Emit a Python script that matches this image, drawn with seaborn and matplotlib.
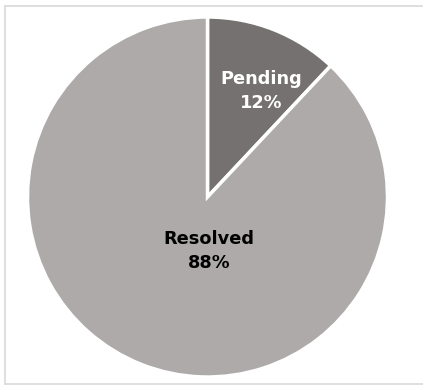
import matplotlib
matplotlib.use("Agg")
import matplotlib.pyplot as plt
from matplotlib.lines import Line2D
import seaborn as sns

# Datos del gráfico
categorias = ["Pending", "Resolved"]
porcentajes = [12, 88]
colores = ["#767171", "#AEAAAA"]
colores_texto = ["white", "black"]

sns.set_style("white")
plt.rcParams["font.family"] = ["DejaVu Sans"]

fig = plt.figure(figsize=(4.23, 3.86), dpi=100)
ax = fig.add_axes([27.5 / 423, 9 / 386, 360 / 423, 360 / 386])

wedges, _ = ax.pie(porcentajes, colors=colores, startangle=90, counterclock=False,
                   wedgeprops=dict(edgecolor="white", linewidth=2.5))
ax.set_xlim(-1, 1)
ax.set_ylim(-1, 1)
ax.set_aspect("equal")
ax.axis("off")

# Etiquetas dentro de cada porción
pos_etiquetas = [(0.30, 0.59), (0.01, -0.30)]
for cat, val, col, (x, y) in zip(categorias, porcentajes, colores_texto, pos_etiquetas):
    ax.text(x, y, f"{cat}\n{val}%", ha="center", va="center", color=col,
            fontsize=12.8, fontweight="bold", linespacing=1.4)

# Marco del gráfico (arriba, izquierda y abajo)
x0, x1 = 4.5 / 423, 1.0
y0, y1 = 2 / 386, 380 / 386
for xs, ys in [([x0, x1], [y1, y1]), ([x0, x0], [y0, y1]), ([x0, x1], [y0, y0])]:
    fig.add_artist(Line2D(xs, ys, transform=fig.transFigure, color="#D9D9D9", linewidth=1.2))

fig.savefig("out.png", dpi=100)
